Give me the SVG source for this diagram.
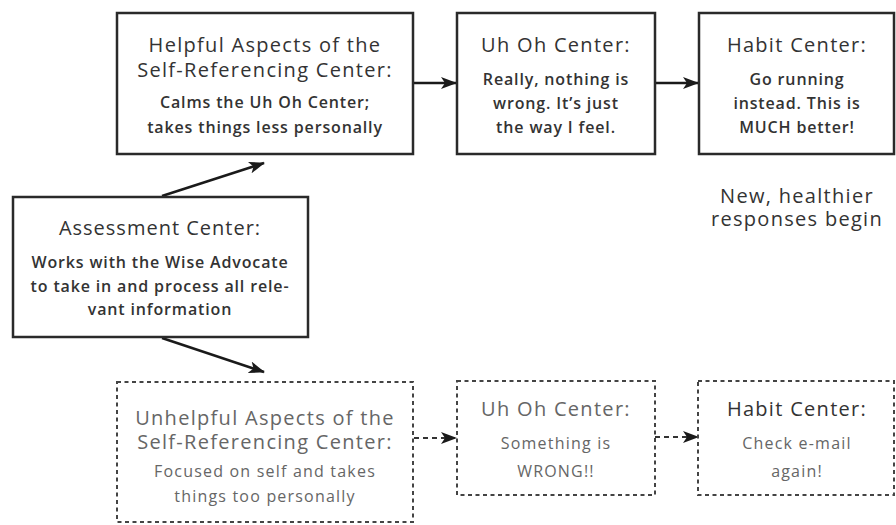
<svg xmlns="http://www.w3.org/2000/svg" width="896" height="525" viewBox="0 0 896 525">
<defs>
<marker id="ah" markerWidth="16" markerHeight="12" refX="15" refY="6" orient="auto" markerUnits="userSpaceOnUse">
<path d="M0,0 L16,6 L0,12 L4,6 Z" fill="#1a1a1a"/>
</marker>
</defs>
<style>
.solid{fill:#fff;stroke:#2a2a2a;stroke-width:2.5}
.dash{fill:#fff;stroke:#444;stroke-width:2;stroke-dasharray:4 3.5}
text{font-family:"Open Sans","Lato","Liberation Sans",sans-serif;text-anchor:middle}
.t{font-size:20px;fill:#333;letter-spacing:1.3px}
.b{font-size:16px;fill:#333;font-weight:600;letter-spacing:0.85px}
.tl{font-size:20px;fill:#666;letter-spacing:1.3px}
.bl{font-size:16px;fill:#666;letter-spacing:1.2px}
.note{font-size:20px;fill:#333;letter-spacing:1.3px}
.c{stroke:#1a1a1a;stroke-width:2.5;fill:none}
.cd{stroke:#333;stroke-width:2;fill:none;stroke-dasharray:5 4}
</style>
<rect width="896" height="525" fill="#fff"/>
<g id="connectors">
<line class="c" x1="413" y1="83" x2="456" y2="83" marker-end="url(#ah)"/>
<line class="c" x1="655" y1="83" x2="698" y2="83" marker-end="url(#ah)"/>
<line class="c" x1="162" y1="196" x2="264" y2="163" marker-end="url(#ah)"/>
<line class="c" x1="162" y1="338" x2="264" y2="372" marker-end="url(#ah)"/>
<line class="cd" x1="414" y1="438" x2="456" y2="438" marker-end="url(#ah)"/>
<line class="cd" x1="655" y1="437" x2="698" y2="437" marker-end="url(#ah)"/>
</g>
<g id="helpful">
<rect class="solid" x="117" y="13" width="296" height="141"/>
<text class="t" x="265" y="52">Helpful Aspects of the</text>
<text class="t" x="265" y="77">Self-Referencing Center:</text>
<text class="b" x="265" y="108">Calms the Uh Oh Center;</text>
<text class="b" x="265" y="133">takes things less personally</text>
</g>
<g id="uhoh1">
<rect class="solid" x="457" y="13" width="198" height="141"/>
<text class="t" x="556" y="52">Uh Oh Center:</text>
<text class="b" x="556" y="85">Really, nothing is</text>
<text class="b" x="556" y="109">wrong. It’s just</text>
<text class="b" x="556" y="133">the way I feel.</text>
</g>
<g id="habit1">
<rect class="solid" x="699" y="13" width="195" height="141"/>
<text class="t" x="797" y="52">Habit Center:</text>
<text class="b" x="797" y="85">Go running</text>
<text class="b" x="797" y="109">instead. This is</text>
<text class="b" x="797" y="133">MUCH better!</text>
</g>
<g id="note">
<text class="note" x="797" y="203">New, healthier</text>
<text class="note" x="797" y="226">responses begin</text>
</g>
<g id="assessment">
<rect class="solid" x="13" y="197" width="295" height="140"/>
<text class="t" x="160" y="235" style="letter-spacing:1px">Assessment Center:</text>
<text class="b" x="160" y="268">Works with the Wise Advocate</text>
<text class="b" x="160" y="292">to take in and process all rele-</text>
<text class="b" x="160" y="315">vant information</text>
</g>
<g id="unhelpful">
<rect class="dash" x="117" y="382" width="296" height="140"/>
<text class="tl" x="265" y="425">Unhelpful Aspects of the</text>
<text class="tl" x="265" y="449">Self-Referencing Center:</text>
<text class="bl" x="265" y="477">Focused on self and takes</text>
<text class="bl" x="265" y="502">things too personally</text>
</g>
<g id="uhoh2">
<rect class="dash" x="457" y="381" width="198" height="114"/>
<text class="tl" x="556" y="416">Uh Oh Center:</text>
<text class="bl" x="556" y="449">Something is</text>
<text class="bl" x="556" y="477">WRONG!!</text>
</g>
<g id="habit2">
<rect class="dash" x="698" y="381" width="196" height="114"/>
<text class="t" x="797" y="416">Habit Center:</text>
<text class="bl" x="797" y="449">Check e-mail</text>
<text class="bl" x="797" y="477">again!</text>
</g>
</svg>
